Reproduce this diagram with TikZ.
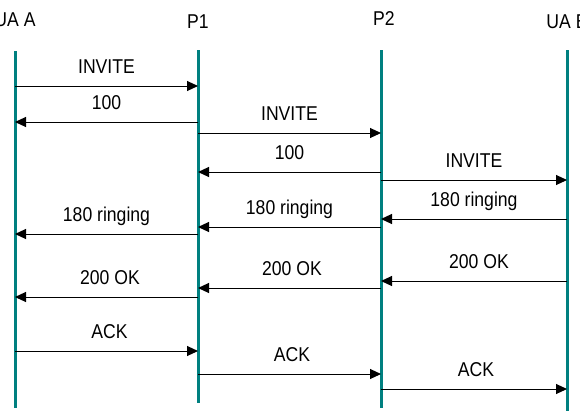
\documentclass[tikz,border=0pt]{standalone}
\usepackage{fontspec}
\setmainfont{Liberation Sans}[FakeStretch=0.88]
\usetikzlibrary{arrows.meta}
\definecolor{lifeteal}{RGB}{0,128,128}
\begin{document}
\begin{tikzpicture}[x=1pt,y=-1pt,
  lifeline/.style={draw=lifeteal, line width=3pt},
  party/.style={font=\fontsize{20}{24}\selectfont, anchor=center, inner sep=0pt},
  msg/.style={draw=black, line width=1pt, -{Triangle[length=11pt,width=10pt]}},
  lbl/.style={font=\fontsize{20}{24}\selectfont, anchor=base, inner sep=0pt, yshift=13pt}]
\useasboundingbox (0,0) rectangle (580,416);

% participants
\node[party] (UAA) at (15,20) {UA A};
\node[party] (P1)  at (198,21.5) {P1};
\node[party] (P2)  at (384,18.5) {P2};
\node[party] (UAB) at (567,21.5) {UA B};

% lifelines
\coordinate (At) at (15,51);  \coordinate (Ab) at (15,408);
\coordinate (Pt) at (198,50); \coordinate (Pb) at (198,403);
\coordinate (Qt) at (381,50); \coordinate (Qb) at (381,408);
\coordinate (Bt) at (567,50); \coordinate (Bb) at (567,411);
\draw[lifeline] (At) -- (Ab);
\draw[lifeline] (Pt) -- (Pb);
\draw[lifeline] (Qt) -- (Qb);
\draw[lifeline] (Bt) -- (Bb);

% INVITE
\draw[msg] (At |- 0,86)  -- node[lbl] (m1) {INVITE} (Pt |- 0,86);
\draw[msg] (Pt |- 0,122) -- node[lbl] (m2) {100} (At |- 0,122);
\draw[msg] (Pt |- 0,133) -- node[lbl] (m3) {INVITE} (Qt |- 0,133);
\draw[msg] (Qt |- 0,172) -- node[lbl] (m4) {100} (Pt |- 0,172);
\draw[msg] (Qt |- 0,180) -- node[lbl] (m5) {INVITE} (Bt |- 0,180);

% ringing
\draw[msg] (Bt |- 0,219) -- node[lbl] (m6) {180 ringing} (Qt |- 0,219);
\draw[msg] (Qt |- 0,227) -- node[lbl] (m7) {180 ringing} (Pt |- 0,227);
\draw[msg] (Pt |- 0,234) -- node[lbl] (m8) {180 ringing} (At |- 0,234);

% 200 OK
\draw[msg] (Bt |- 0,281) -- node[lbl, xshift=5pt] (m9) {200 OK} (Qt |- 0,281);
\draw[msg] (Qt |- 0,288) -- node[lbl, xshift=2.5pt] (m10) {200 OK} (Pt |- 0,288);
\draw[msg] (Pt |- 0,297) -- node[lbl, xshift=3.5pt] (m11) {200 OK} (At |- 0,297);

% ACK
\draw[msg] (At |- 0,351) -- node[lbl, xshift=3pt] (m12) {ACK} (Pt |- 0,351);
\draw[msg] (Pt |- 0,374) -- node[lbl, xshift=2.5pt] (m13) {ACK} (Qt |- 0,374);
\draw[msg] (Qt |- 0,389) -- node[lbl, xshift=2pt] (m14) {ACK} (Bt |- 0,389);
\end{tikzpicture}
\end{document}
